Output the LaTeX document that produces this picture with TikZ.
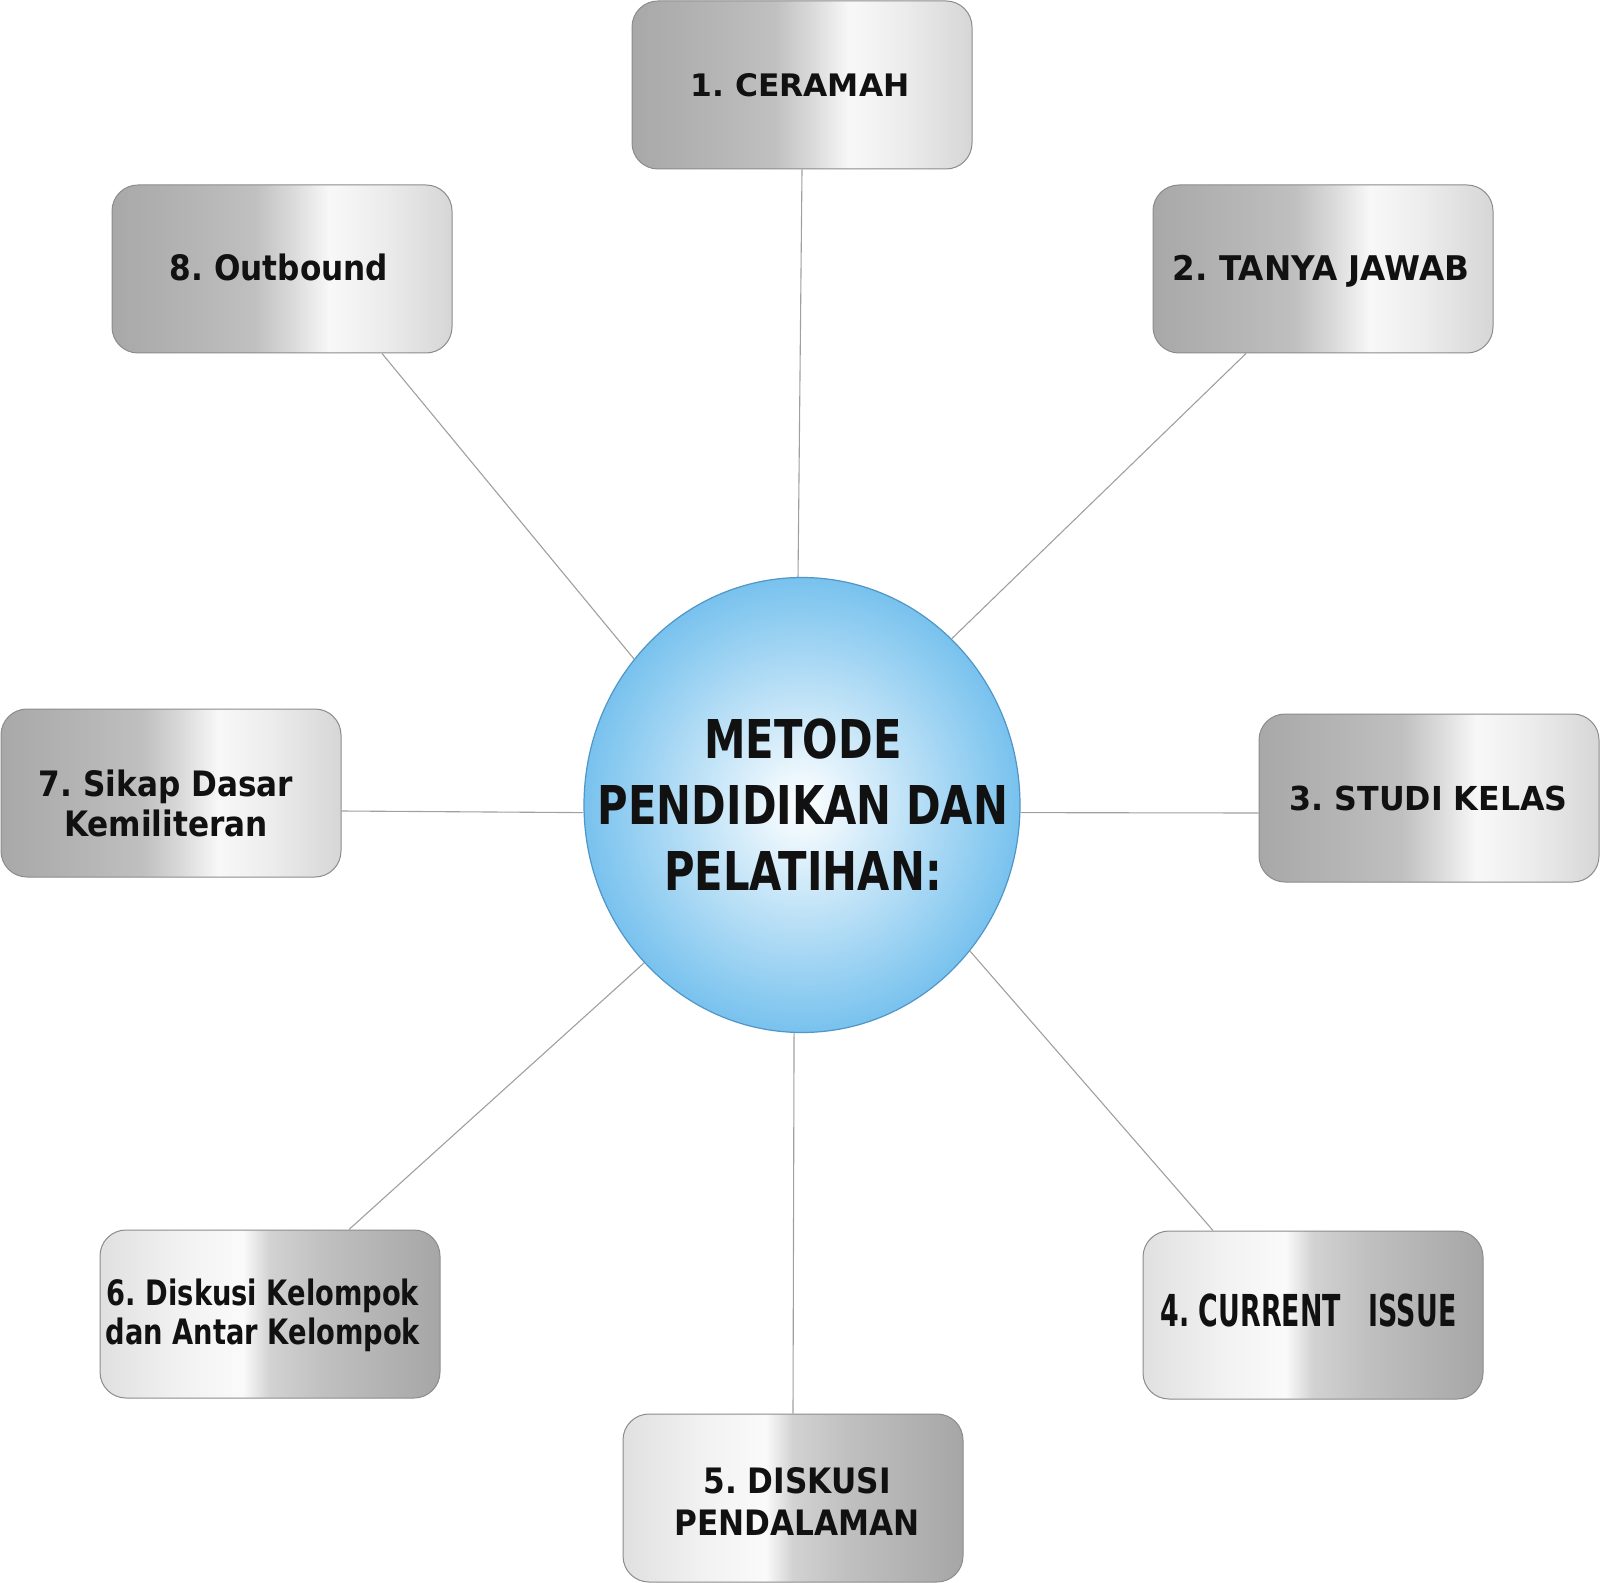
\documentclass[tikz,border=0pt]{standalone}
\usepackage{fontspec}
\setmainfont{DejaVu Sans}
\newfontfamily\fA{DejaVu Sans}[FakeStretch=0.78]
\newfontfamily\fB{DejaVu Sans}[FakeStretch=0.89]
\newfontfamily\fC{DejaVu Sans}[FakeStretch=0.96]
\newfontfamily\fD{DejaVu Sans}[FakeStretch=1.01]
\newfontfamily\fE{DejaVu Sans}[FakeStretch=0.61]
\usetikzlibrary{shapes.geometric,calc}
\definecolor{saA}{RGB}{168,168,168}
\definecolor{saB}{RGB}{182,182,182}
\definecolor{saC}{RGB}{192,192,192}
\definecolor{saD}{RGB}{218,218,218}
\definecolor{saE}{RGB}{248,248,248}
\definecolor{saF}{RGB}{236,236,236}
\definecolor{saG}{RGB}{214,214,214}
\definecolor{sbA}{RGB}{224,224,224}
\definecolor{sbB}{RGB}{242,242,242}
\definecolor{sbC}{RGB}{250,250,250}
\definecolor{sbD}{RGB}{210,210,210}
\definecolor{sbE}{RGB}{192,192,192}
\definecolor{sbF}{RGB}{166,166,166}
\definecolor{ballblue}{RGB}{120,194,238}
\definecolor{ballline}{RGB}{80,150,200}
\definecolor{boxline}{RGB}{140,140,140}
\definecolor{linkgray}{RGB}{160,160,160}
\definecolor{ink}{RGB}{17,17,17}
\pgfdeclarehorizontalshading{silverA}{100bp}{color(0bp)=(saA); color(25bp)=(saA); color(38bp)=(saB); color(46bp)=(saC); color(51.5bp)=(saD); color(57bp)=(saE); color(65bp)=(saF); color(75bp)=(saG); color(100bp)=(saG)}
\pgfdeclarehorizontalshading{silverB}{100bp}{color(0bp)=(sbA); color(25bp)=(sbA); color(37bp)=(sbB); color(46bp)=(sbC); color(50bp)=(sbD); color(58bp)=(sbE); color(75bp)=(sbF); color(100bp)=(sbF)}
\tikzset{
  boxbase/.style={rounded corners=13pt, draw=boxline, line width=0.5pt, minimum width=170pt, minimum height=84pt, inner sep=0pt, shade},
  boxA/.style={boxbase, shading=silverA},
  boxB/.style={boxbase, shading=silverB},
  ball/.style={ellipse, minimum width=218pt, minimum height=227.5pt, inner sep=0pt, draw=ballline, line width=0.6pt, inner color=white, outer color=ballblue},
  link/.style={draw=linkgray, line width=0.55pt},
  lbl/.style={text=ink, inner sep=0pt, align=center}
}
\frenchspacing
\begin{document}
\frenchspacing
\begin{tikzpicture}[x=0.5pt, y=-0.5pt]
\fill[white] (0,0) rectangle (1600,1583);
\useasboundingbox (0,0) rectangle (1600,1583);

% boxes
\node[boxA] (b1) at (802,85) {};
\node[boxA] (b2) at (1323,269) {};
\node[boxA] (b3) at (1429,798) {};
\node[boxB] (b4) at (1313,1315) {};
\node[boxB] (b5) at (793,1498) {};
\node[boxB] (b6) at (270,1314) {};
\node[boxA] (b7) at (171,793) {};
\node[boxA] (b8) at (282,269) {};

% centre
\node[ball] (c) at (802,805) {};

% connectors
\draw[link] (b1.south) -- (c.91);
\draw[link] ($(b2.south)+(-77,0)$) -- (c.48.3);
\draw[link] ($(b3.west)+(0,15)$) -- (c.-2);
\draw[link] ($(b4.north)+(-100,0)$) -- (c.-41.5);
\draw[link] (b5.north) -- (c.-92);
\draw[link] ($(b6.north)+(79,0)$) -- (c.225.3);
\draw[link] ($(b7.east)+(0,18)$) -- (c.182);
\draw[link] ($(b8.south)+(100,0)$) -- (c.139);

% texts
\node[lbl, anchor=base, font={\fD\bfseries\fontsize{15.5pt}{18pt}\selectfont}] (t1) at (800,96.7) {1. CERAMAH};
\node[lbl, anchor=base, font={\fC\bfseries\fontsize{17pt}{20pt}\selectfont}] (t2) at (1321,281) {2. TANYA JAWAB};
\node[lbl, anchor=base, font={\fC\bfseries\fontsize{16.5pt}{20pt}\selectfont}] (t3) at (1428.5,810) {3. STUDI KELAS};
\node[lbl, anchor=base, font={\fE\bfseries\fontsize{22pt}{26pt}\selectfont}] (t4) at (1308.5,1326) {4. CURRENT\ \ \ ISSUE};
\node[lbl, font={\fB\bfseries\fontsize{17.5pt}{21pt}\selectfont}] (t5) at (797,1501) {5. DISKUSI\\PENDALAMAN};
\node[lbl, font={\fA\bfseries\fontsize{17.5pt}{19.5pt}\selectfont}] (t6) at (263,1315) {6. Diskusi Kelompok\\dan Antar Kelompok};
\node[lbl, font={\fB\bfseries\fontsize{17.5pt}{20pt}\selectfont}] (t7) at (166,803) {7. Sikap Dasar\\Kemiliteran};
\node[lbl, anchor=base, font={\fB\bfseries\fontsize{17.5pt}{20pt}\selectfont}] (t8) at (279,280.7) {8. Outbound};
\node[lbl, font={\fA\bfseries\fontsize{26.75pt}{33pt}\selectfont}] (tc) at (803,805) {METODE\\PENDIDIKAN DAN\\PELATIHAN:};
\end{tikzpicture}
\end{document}
